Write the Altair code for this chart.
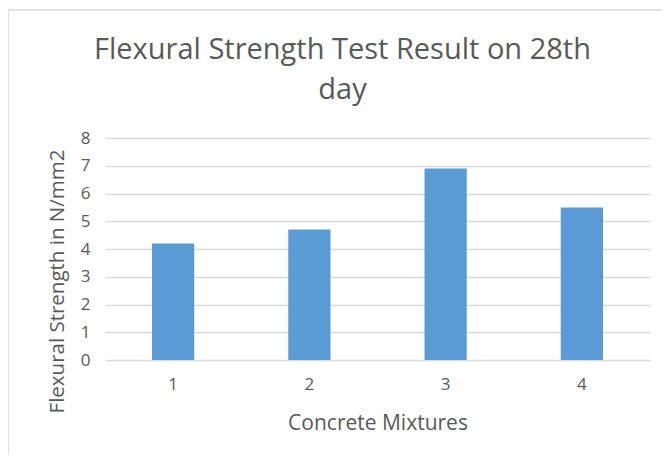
import altair as alt
import pandas as pd

mixtures = ["1", "2", "3", "4"]
strength = [4.2, 4.7, 6.9, 5.5]
y_ticks = [0, 1, 2, 3, 4, 5, 6, 7, 8]
title_lines = ["Flexural Strength Test Result on 28th", "day"]
x_title = "Concrete Mixtures"
y_title = "Flexural Strength in N/mm2"

df = pd.DataFrame({"mix": mixtures, "val": strength})

FONT = "Open Sans"
TXT = "#595959"
GRID = "#d9d9d9"

bars = alt.Chart(df).mark_bar(color="#5B9BD5").encode(
    x=alt.X("mix:N", sort=mixtures,
            scale=alt.Scale(paddingInner=0.69, paddingOuter=0.345),
            axis=alt.Axis(title=x_title, labelAngle=0, ticks=False, domain=False,
                          labelPadding=16, titlePadding=20, labelFontSize=17,
                          titleFontSize=21, labelColor=TXT, titleColor=TXT,
                          labelFont=FONT, titleFont=FONT, titleFontWeight="normal")),
    y=alt.Y("val:Q", scale=alt.Scale(domain=[0, 8], nice=False),
            axis=alt.Axis(title=y_title, values=y_ticks, ticks=False, domain=False,
                          gridColor=GRID, gridWidth=1.5, labelPadding=15,
                          labelFontSize=17, titleFontSize=20.5, labelColor=TXT,
                          titleColor=TXT, labelFont=FONT, titleFont=FONT,
                          titleFontWeight="normal", titleX=-38, titleY=143,
                          titleBaseline="bottom")),
)

edge = pd.DataFrame({"b": [0]})
top_edge = alt.Chart(edge).mark_rule(color="#d9d9d9", strokeWidth=1.5).encode(
    x=alt.value(-97), x2=alt.value(570), y=alt.value(-128)
)
left_edge = alt.Chart(edge).mark_rule(color="#d9d9d9", strokeWidth=1.5).encode(
    x=alt.value(-97), y=alt.value(-128), y2=alt.value(330)
)

chart = alt.layer(top_edge, left_edge, bars).properties(
    width=545, height=222,
    autosize=alt.AutoSizeParams(type="none"),
    padding={"left": 97, "top": 130, "right": 12, "bottom": 95},
    title=alt.TitleParams(text=title_lines, font=FONT, fontSize=29, fontWeight="normal",
                          color=TXT, anchor="middle", dx=-35, lineHeight=40, offset=0,
                          dy=125, baseline="bottom"),
).configure_view(stroke=None)

chart.save("out.html", embed_options={"renderer": "svg", "actions": False})
